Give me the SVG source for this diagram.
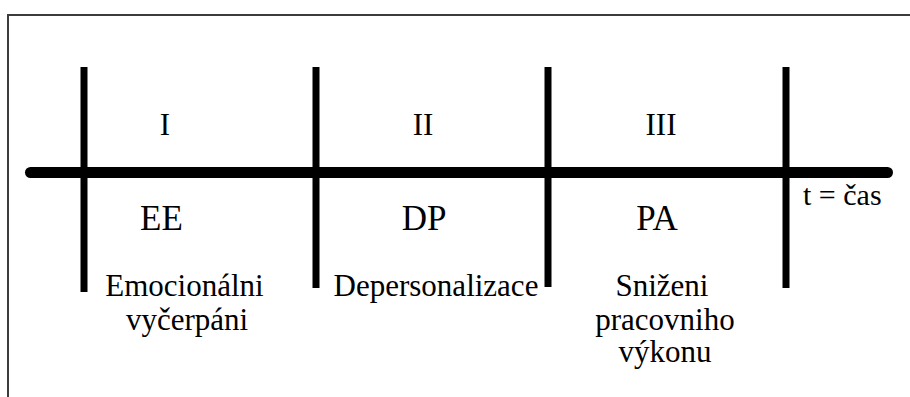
<svg xmlns="http://www.w3.org/2000/svg" width="910" height="397" viewBox="0 0 910 397">
<style>
text{fill:#000;text-anchor:middle}
.num{font-size:31px}
.abbr{font-size:35px}
.lbl{font-size:31px}
.t{font-size:30px;text-anchor:start}
.axis{stroke:#000;stroke-width:11;stroke-linecap:round}
.tick{stroke:#000;stroke-width:7}
</style>
<rect x="8" y="15" width="920" height="400" fill="#fff" stroke="#3c3c3c" stroke-width="2"/>
<g id="connectors">
<line class="axis" x1="30.5" y1="172.5" x2="887.5" y2="172.5"/>
<line class="tick" x1="84" y1="67" x2="84" y2="292"/>
<line class="tick" x1="316" y1="67" x2="316" y2="288"/>
<line class="tick" x1="548" y1="67" x2="548" y2="287"/>
<line class="tick" x1="786" y1="67" x2="786" y2="288"/>
</g>
<g font-family="'Liberation Serif', 'DejaVu Serif', serif">
<g id="phase1">
<text class="num" x="165" y="135">I</text>
<text class="abbr" x="161.5" y="230">EE</text>
<text class="lbl" x="184.5" y="296">Emocionálni</text>
<text class="lbl" x="187" y="330">vyčerpáni</text>
</g>
<g id="phase2">
<text class="num" x="423" y="135">II</text>
<text class="abbr" x="424" y="230">DP</text>
<text class="lbl" x="436" y="296">Depersonalizace</text>
</g>
<g id="phase3">
<text class="num" x="661" y="135">III</text>
<text class="abbr" x="657" y="230">PA</text>
<text class="lbl" x="662" y="296">Sniženi</text>
<text class="lbl" x="665" y="330">pracovniho</text>
<text class="lbl" x="665" y="362">výkonu</text>
</g>
<g id="time">
<text class="t" x="803" y="205">t = čas</text>
</g>
</g>
</svg>
